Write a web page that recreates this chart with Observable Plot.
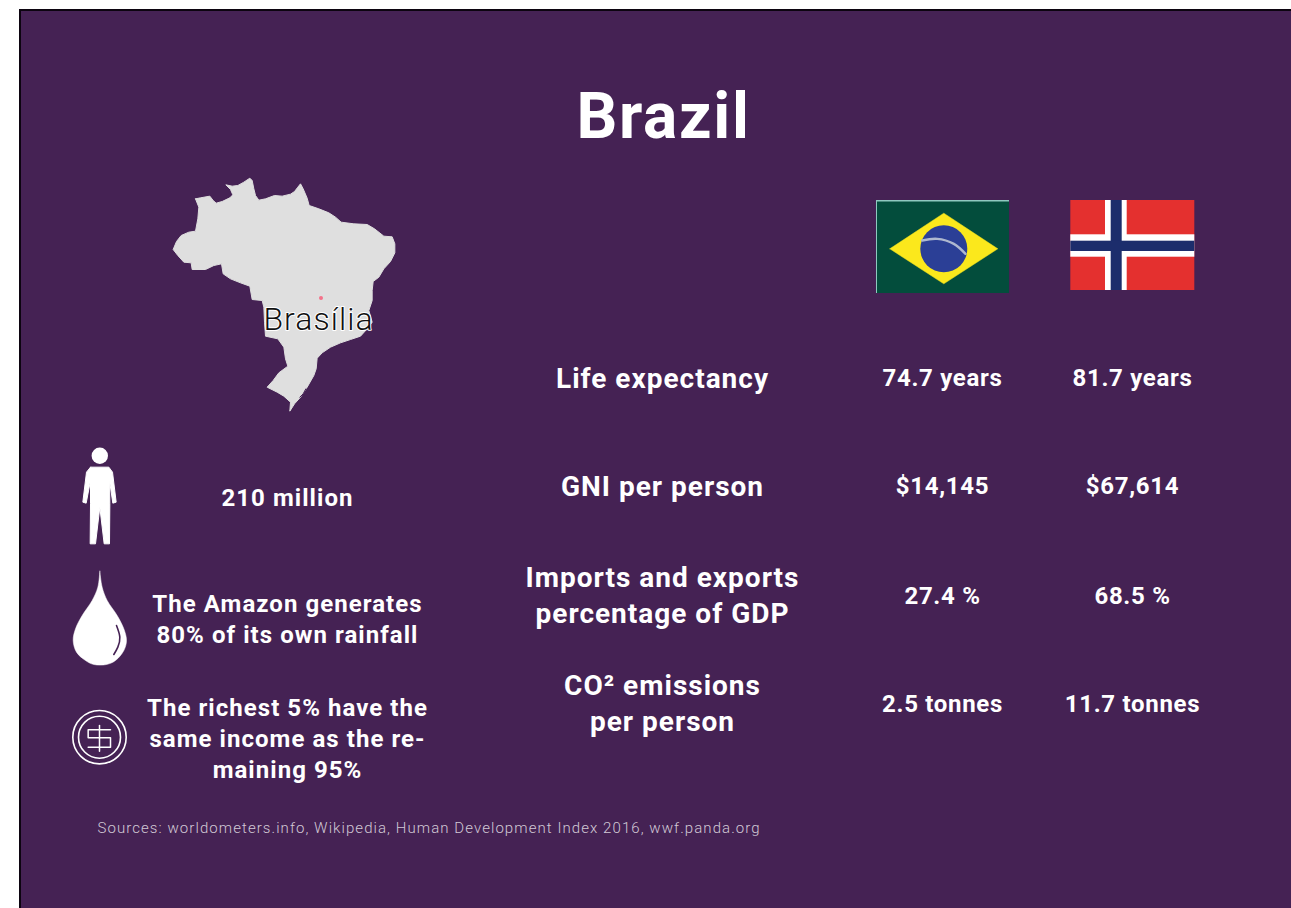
<!DOCTYPE html>
<html><head><meta charset="utf-8">
<script src="https://cdn.jsdelivr.net/npm/d3@7"></script>
<script src="https://cdn.jsdelivr.net/npm/@observablehq/plot@0.6"></script>
<style>html,body{margin:0;padding:0;background:#fff}svg{display:block}</style>
</head><body><div id="c"></div>
<script>
// ---- chart content ----
const title = "Brazil";
const metrics = [["Life expectancy"],["GNI per person"],["Imports and exports","percentage of GDP"],["CO² emissions","per person"]];
const brazilValues = ["74.7 years","$14,145","27.4 %","2.5 tonnes"];
const norwayValues = ["81.7 years","$67,614","68.5 %","11.7 tonnes"];
const facts = [["210 million"],["The Amazon generates","80% of its own rainfall"],["The richest 5% have the","same income as the re-","maining 95%"]];
const capital = "Brasília";
const source = "Sources: worldometers.info, Wikipedia, Human Development Index 2016, wwf.panda.org";
// traced outline of the map (map units: 3 per page pixel)
const mapU = [135,150,178,188,197,215,238,247,240,226,245,262,280,298,305,310,315,325,345,372,395,420,432,442,450,458,470,476,505,535,555,572,610,650,672,700,725,733,733,720,700,685,668,665,665,655,665,650,630,600,570,540,515,500,497,490,470,450,432,418,420,400,380,350,368,385,412,405,400,382,345,342,340,335,305,298,270,240,218,213,190,165,125,122,100,82,68,78,92,115,135,142,145];
const mapV = [100,97,92,105,113,108,97,88,72,58,62,60,50,38,45,70,90,104,100,90,92,86,78,65,55,70,98,120,130,142,155,170,175,177,190,212,214,235,262,288,310,335,348,375,405,435,470,490,512,522,532,545,562,578,610,630,665,695,715,737,710,692,680,665,645,622,602,580,545,520,512,470,425,405,402,362,352,340,325,295,300,312,312,292,290,270,252,228,210,200,197,160,125];
// traced icons (same units)
const personU = [90,145,156,167,157,147,148,147,131,118,105,89,90,90,77,67,78];
const personV = [80,80,95,185,188,120,190,310,310,200,310,310,190,120,188,185,95];
const dropU = [118,112,95,65,45,38,48,75,100,138,165,190,198,190,170,140,125];
const dropV = [392,440,480,525,565,600,635,660,672,672,660,630,600,565,525,480,440];
const glintU = [168,178,172,160];
const glintV = [555,590,620,642];
const dollarU = [150,83,83,150,150,83];
const dollarV = [868,868,892,892,920,920];

// ---- layout (page pixels) ----
const W = 1291, H = 908;
const colX = {metric:662, brazil:942, norway:1132, fact:287};
const rowY = [378,486,596,704];
const metricY = [379,487,596,704];
const factY = [498,619.5,739];
const metricLead = 36, factLead = 31;
const mapPt = (u,v,ox,oy) => u.map((d,i)=>({x:ox+d/3,y:oy+v[i]/3}));
const lines = (arr,cx,cy,lead) => arr.map((t,i)=>({t,x:cx,y:cy+(i-(arr.length-1)/2)*lead}));

const metricText = metrics.flatMap((m,i)=>lines(m,colX.metric,metricY[i],metricLead));
const brazilText = brazilValues.map((t,i)=>({t,x:colX.brazil,y:rowY[i]}));
const norwayText = norwayValues.map((t,i)=>({t,x:colX.norway,y:rowY[i]}));
const factText = facts.flatMap((m,i)=>lines(m,colX.fact,factY[i],factLead));

const P="#452254", BF="'Roboto',sans-serif";
const box=(x1,x2,y1,y2,fill)=>Plot.rect([0],{x1:()=>x1,x2:()=>x2,y1:()=>y1,y2:()=>y2,fill});
const poly=(pts,fill,curve="linear",sw=0.5)=>Plot.line(pts.concat(pts[0]),{x:"x",y:"y",fill,stroke:fill,strokeWidth:sw,strokeLinejoin:"round",curve});
const spaced=ls=>(i,s,v,d,c,next)=>{const g=next(i,s,v,d,c);g.style.letterSpacing=ls+"px";return g;};
const txt=(data,size,weight,fill,ls,extra={})=>Plot.text(data,{x:"x",y:"y",text:"t",fontSize:size,fontWeight:weight,fontFamily:BF,fill,lineAnchor:"middle",render:spaced(ls),...extra});

const chart = Plot.plot({
  width:W,height:H,margin:0,
  x:{type:"linear",domain:[0,W],range:[0,W],axis:null},
  y:{type:"linear",domain:[0,H],range:[0,H],axis:null},
  style:{background:"#fff"},
  marks:[
    box(19,W,9,H,"#0c0410"),
    box(21,W,11,H,P),
    txt([{t:title,x:663,y:117}],64,700,"#fff",1.7),
    // map
    poly(mapPt(mapU,mapV,150,165),"#dfdfdf","linear",1),
    Plot.line(mapPt([448,458,466],[695,685,670],150,165),{x:"x",y:"y",stroke:P,strokeWidth:1}),
    Plot.dot([0],{x:()=>320.5,y:()=>297.5,r:2,fill:"#f4728a"}),
    txt([{t:capital,x:318,y:319}],32,300,"#111",1.05,{stroke:"#fff",strokeWidth:2,paintOrder:"stroke"}),
    // flags
    box(876,1009,200,293,"#034d3c"),
    box(876,1009,200,201.5,"#8fc9c0"),
    box(876,877,200,293,"#8fc9c0"),
    poly([{x:889.3,y:248.3},{x:943.3,y:212.7},{x:997.3,y:248.3},{x:943.3,y:283.3}],"#fbe81c"),
    Plot.dot([0],{x:()=>943.3,y:()=>248.3,r:23.5,fill:"#2b3f96"}),
    Plot.line(mapPt([185,230,280,315],[150,145,160,190],860,190),{x:"x",y:"y",stroke:"#aeb8cf",strokeWidth:2.4,curve:"natural"}),
    box(1070.3,1194.3,200,290,"#e4302f"),
    box(1105,1126.7,200,290,"#fff"),
    box(1070.3,1194.3,234.3,256.7,"#fff"),
    box(1110.7,1121.7,200,290,"#1c2d6c"),
    box(1070.3,1194.3,240.7,251,"#1c2d6c"),
    // icons
    Plot.dot([0],{x:()=>99.3,y:()=>455.3,r:8.2,fill:"#fff"}),
    poly(mapPt(personU,personV,60,440),"#fff","linear",1),
    poly(mapPt(dropU,dropV,60,440),"#fff","catmull-rom"),
    Plot.line(mapPt(glintU,glintV,60,440),{x:"x",y:"y",stroke:P,strokeWidth:1.6,curve:"natural"}),
    Plot.dot([0],{x:()=>99,y:()=>736.7,r:26.7,fill:"none",stroke:"#fff",strokeWidth:1.6}),
    Plot.dot([0],{x:()=>99,y:()=>736.7,r:21,fill:"none",stroke:"#fff",strokeWidth:1.6}),
    Plot.line(mapPt(dollarU,dollarV,60,440),{x:"x",y:"y",stroke:"#fff",strokeWidth:1.5}),
    Plot.line(mapPt([117,117],[855,932],60,440),{x:"x",y:"y",stroke:"#fff",strokeWidth:1.5}),
    // text
    txt(metricText,28,700,"#fff",1),
    txt(brazilText,24,700,"#fff",0.7),
    txt(norwayText,24,700,"#fff",0.7),
    txt(factText,24,700,"#fff",1.05),
    txt([{t:source,x:97,y:828}],15,300,"#d2c9d6",1.07,{textAnchor:"start"})
  ]
});
document.getElementById("c").append(chart);
</script></body></html>
